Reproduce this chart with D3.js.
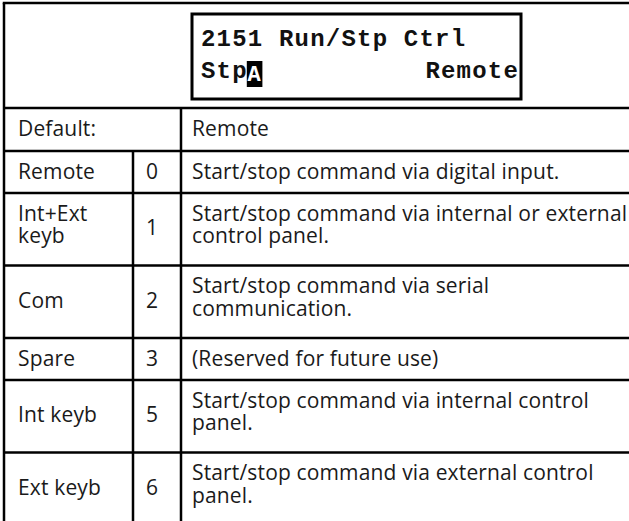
<!DOCTYPE html>
<html>
<head>
<meta charset="utf-8">
<script src="https://cdn.jsdelivr.net/npm/d3@7"></script>
<style>
  html, body { margin: 0; padding: 0; background: #fff; }
  svg { display: block; }
</style>
</head>
<body>
<svg id="chart" width="629" height="521"></svg>
<script>
// ---- data ----
const lcdLine1 = "2151 Run/Stp Ctrl";
const lcdLine2Left = "Stp";
const lcdCursor = "A";
const lcdLine2Right = "Remote";
const defaultLabel = "Default:";
const defaultValue = "Remote";
const names = [["Remote"], ["Int+Ext", "keyb"], ["Com"], ["Spare"], ["Int keyb"], ["Ext keyb"]];
const codes = ["0", "1", "2", "3", "5", "6"];
const descriptions = [
  ["Start/stop command via digital input."],
  ["Start/stop command via internal or external", "control panel."],
  ["Start/stop command via serial", "communication."],
  ["(Reserved for future use)"],
  ["Start/stop command via internal control", "panel."],
  ["Start/stop command via external control", "panel."]
];

// ---- layout ----
const W = 629, H = 521;
const svg = d3.select("#chart");
const xLeft = 4, xCol1 = 133, xCol2 = 181, xRight = W;
const yTop = 3, yHeader = 108, yDefault = 151;
const lineGap = 22.5, firstBase = 27.5, pad = 11;
const stroke = "#000", sw = 2.5;
const txtColor = "#1a1a1a";
const bodyFont = "'Open Sans', 'Liberation Sans', sans-serif";
const bodySize = 21;

const nLines = descriptions.map((d, i) => Math.max(d.length, names[i].length));
const heights = nLines.map(n => n === 1 ? 42 : 72.5);
const tops = [yDefault, ...d3.cumsum(heights).map(v => v + yDefault)].slice(0, heights.length);

const colX = d3.scaleOrdinal().domain(["name", "code", "desc"]).range([xLeft + 14, xCol1 + pad + 2, xCol2 + pad]);

// lines
const g = svg.append("g").attr("stroke", stroke).attr("stroke-width", sw);
g.append("line").attr("x1", xLeft - sw/2).attr("x2", xRight).attr("y1", yTop).attr("y2", yTop);
g.append("line").attr("x1", xLeft).attr("x2", xLeft).attr("y1", yTop).attr("y2", H);
g.append("line").attr("x1", xLeft).attr("x2", xRight).attr("y1", yHeader).attr("y2", yHeader);
g.append("line").attr("x1", xCol2).attr("x2", xCol2).attr("y1", yHeader).attr("y2", H);
g.append("line").attr("x1", xCol1).attr("x2", xCol1).attr("y1", yDefault).attr("y2", H);
g.selectAll("line.row").data(tops).join("line").attr("class", "row")
  .attr("x1", xLeft).attr("x2", xRight).attr("y1", d => d).attr("y2", d => d);

// LCD box
const lcd = { x: 192, y: 14, w: 329, h: 85 };
svg.append("rect").attr("x", lcd.x).attr("y", lcd.y).attr("width", lcd.w).attr("height", lcd.h)
  .attr("fill", "none").attr("stroke", stroke).attr("stroke-width", 3);
const monoFont = "'Liberation Mono', 'DejaVu Sans Mono', monospace";
const monoSize = 24, monoLS = 1.2, adv = monoSize * 0.6 + monoLS;
const lcdX = 201;
function mono(x, y, s, anchor, fill, size) {
  return svg.append("text").attr("x", x).attr("y", y).text(s)
    .attr("font-family", monoFont).attr("font-weight", "bold").attr("font-size", size || monoSize)
    .attr("letter-spacing", monoLS).attr("text-anchor", anchor || "start").attr("fill", fill || "#111");
}
mono(lcdX, 46, lcdLine1);
mono(lcdX, 78, lcdLine2Left);
const curX = lcdX + lcdLine2Left.length * adv;
svg.append("rect").attr("x", curX - 1).attr("y", 61).attr("width", adv).attr("height", 26).attr("fill", "#000");
mono(curX + adv / 2 - 1, 81, lcdCursor, "middle", "#fff", 22);
mono(519, 78, lcdLine2Right, "end");

// body text helper
const body = svg.append("g").attr("font-family", bodyFont).attr("font-size", bodySize)
  .attr("letter-spacing", 0.15).attr("fill", txtColor);
function cell(x, top, h, lines, center) {
  const t = body.append("text").attr("x", x);
  if (center && lines.length === 1 && h > 50) {
    t.attr("y", top + h / 2 + 6).text(lines[0]);
  } else {
    lines.forEach((s, i) => t.append("tspan").attr("x", x).attr("y", top + firstBase + i * lineGap).text(s));
  }
}
cell(colX("name"), yHeader, yDefault - yHeader, [defaultLabel], true);
cell(colX("desc"), yHeader, yDefault - yHeader, [defaultValue], true);
tops.forEach((top, i) => {
  const h = heights[i];
  cell(colX("name"), top, h, names[i], true);
  cell(colX("code"), top, h, [codes[i]], true);
  cell(colX("desc"), top, h, descriptions[i], false);
});
</script>
</body>
</html>
